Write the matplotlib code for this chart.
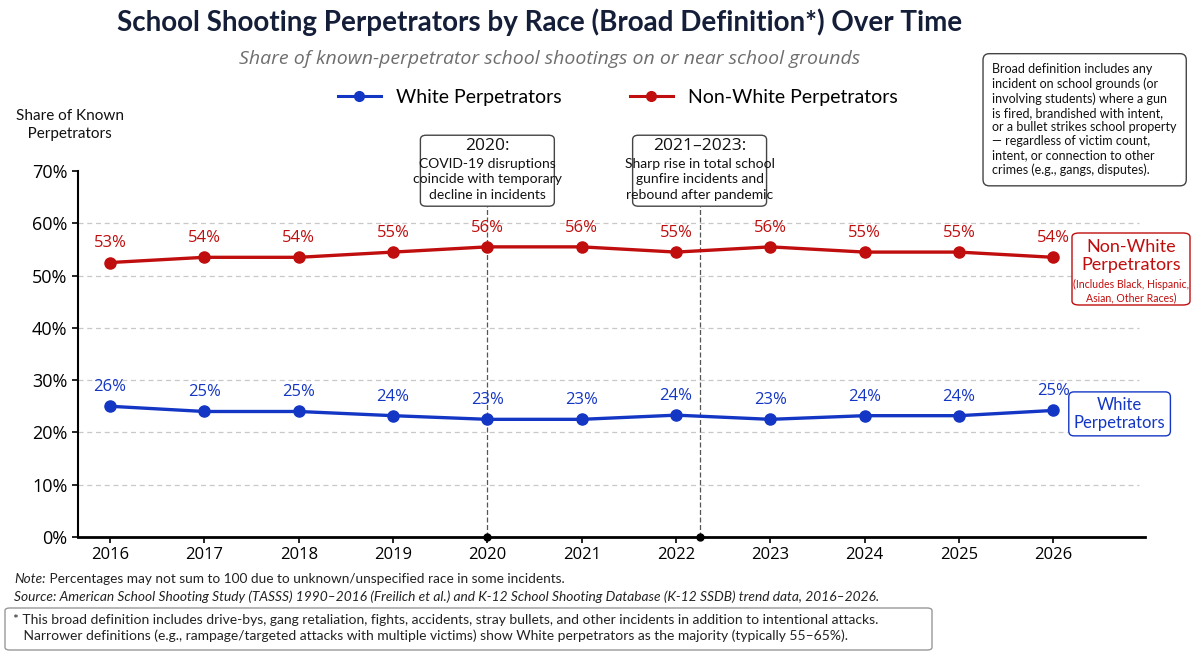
import matplotlib
matplotlib.use('Agg')
import matplotlib.pyplot as plt
import matplotlib.transforms as mtransforms
from matplotlib.patches import FancyBboxPatch
from matplotlib.lines import Line2D

# data
years = [2016, 2017, 2018, 2019, 2020, 2021, 2022, 2023, 2024, 2025, 2026]
nonwhite = [52.5, 53.5, 53.5, 54.5, 55.5, 55.5, 54.5, 55.5, 54.5, 54.5, 53.5]
nonwhite_labels = ['53%', '54%', '54%', '55%', '56%', '56%', '55%', '56%', '55%', '55%', '54%']
white = [25.0, 24.0, 24.0, 23.2, 22.5, 22.5, 23.3, 22.5, 23.2, 23.2, 24.2]
white_labels = ['26%', '25%', '25%', '24%', '23%', '23%', '24%', '23%', '24%', '24%', '25%']
yticks = [0, 10, 20, 30, 40, 50, 60, 70]
events = [2020, 2022.25]
event_titles = ['2020:', '2021\u20132023:']
event_texts = ['COVID-19 disruptions\ncoincide with temporary\ndecline in incidents',
               'Sharp rise in total school\ngunfire incidents and\nrebound after pandemic']

RED = '#c00d0d'
BLUE = '#1436c4'
NAVY = '#141e38'
LATO = ['Lato', 'DejaVu Sans']
BODY = ['Open Sans', 'DejaVu Sans']

plt.rcParams['font.family'] = LATO

fig = plt.figure(figsize=(12, 6.58), dpi=100)
ax = fig.add_axes([0.065, 0.184, 0.889, 0.556])

ax.plot(years, nonwhite, '-o', color=RED, lw=2.4, ms=8, zorder=3)
ax.plot(years, white, '-o', color=BLUE, lw=2.4, ms=8, zorder=3)
for x, y, s in zip(years, nonwhite, nonwhite_labels):
    ax.annotate(s, (x, y), xytext=(0, 8), textcoords='offset points',
                ha='center', va='bottom', color=RED, fontsize=12, family=BODY)
for x, y, s in zip(years, white, white_labels):
    ax.annotate(s, (x, y), xytext=(0, 8), textcoords='offset points',
                ha='center', va='bottom', color=BLUE, fontsize=12, family=BODY)

ax.set_xlim(2015.66, 2026.97)
ax.set_ylim(0, 70)
ax.set_yticks(yticks)
ax.set_yticklabels([f'{t}%' for t in yticks], fontsize=13, family=BODY)
ax.set_xticks(years)
ax.set_xticklabels([str(y) for y in years], fontsize=12, family=BODY)
for t in yticks[1:-1]:
    ax.axhline(t, xmax=0.995, color='#c8c8c8', lw=0.9, ls=(0, (4, 3)), zorder=1)
ax.spines[['top', 'right']].set_visible(False)
ax.spines['left'].set_linewidth(1.5)
ax.spines['bottom'].set_linewidth(2)
ax.tick_params(axis='both', length=4, width=1.2)

# event markers with boxed notes
trans = mtransforms.blended_transform_factory(ax.transData, ax.transAxes)
for x, head, body in zip(events, event_titles, event_texts):
    ax.axvline(x, ymin=0, ymax=0.904, color='#555555', lw=0.9, ls=(0, (4, 2)), zorder=2)
    ax.plot(x, 0, 'o', color='black', ms=5, clip_on=False, zorder=4)
    ax.add_patch(FancyBboxPatch((x - 0.71, 0.904), 1.42, 0.194,
                                boxstyle='round,pad=0,rounding_size=0.06', mutation_aspect=0.2,
                                transform=trans, fc='white', ec='#444444', lw=1, clip_on=False, zorder=5))
    ax.text(x, 1.068, head, transform=trans, ha='center', va='center', fontsize=12.5,
            family=BODY, color='#111111', zorder=6)
    ax.text(x, 0.978, body, transform=trans, ha='center', va='center', fontsize=10,
            linespacing=1.35, color='#111111', zorder=6)

# titles
fig.text(0.45, 0.967, 'School Shooting Perpetrators by Race (Broad Definition*) Over Time',
         ha='center', va='center', fontsize=20, fontweight='bold', color=NAVY)
fig.text(0.458, 0.91, 'Share of known-perpetrator school shootings on or near school grounds',
         ha='center', va='center', fontsize=14, style='italic', color='#6e6e6e', family=BODY)

handles = [Line2D([], [], color=BLUE, marker='o', lw=2.2, ms=7),
           Line2D([], [], color=RED, marker='o', lw=2.2, ms=7)]
fig.legend(handles, ['White Perpetrators', 'Non-White Perpetrators'], loc='center',
           bbox_to_anchor=(0.515, 0.852), ncol=2, frameon=False, fontsize=14,
           handlelength=2.2, columnspacing=3.5, handletextpad=0.8)

fig.text(0.013, 0.81, 'Share of Known\n   Perpetrators', ha='left', va='center',
         fontsize=11, color='#111111', linespacing=1.3)

fig.text(0.827, 0.818,
         'Broad definition includes any\nincident on school grounds (or\ninvolving students) where a gun\n'
         'is fired, brandished with intent,\nor a bullet strikes school property\n'
         '\u2014 regardless of victim count,\nintent, or connection to other\ncrimes (e.g., gangs, disputes).',
         ha='left', va='center', fontsize=9, linespacing=1.22, color='#111111',
         bbox=dict(boxstyle='round,pad=0.75,rounding_size=0.5', fc='white', ec='#444444', lw=1))

# right-hand series labels
fig.patches.append(FancyBboxPatch(
    (1072 / 1200, 1 - 305 / 658), 118 / 1200, 72 / 658, boxstyle='round,pad=0,rounding_size=0.006',
    transform=fig.transFigure, fc='white', ec=RED, lw=1))
fig.text(0.9425, 0.611, 'Non-White\nPerpetrators', ha='center', va='center', fontsize=13,
         color=RED, linespacing=1.15)
fig.text(0.9425, 0.558, '(Includes Black, Hispanic,\nAsian, Other Races)', ha='center', va='center',
         fontsize=7.6, color=RED, linespacing=1.3)
fig.text(0.933, 0.371, 'White\nPerpetrators', ha='center', va='center', fontsize=12,
         color=BLUE, linespacing=1.15,
         bbox=dict(boxstyle='round,pad=0.3,rounding_size=0.3', fc='white', ec=BLUE, lw=1))

# footer
note = fig.text(0.012, 0.12, 'Note:', ha='left', va='center', fontsize=9.8, style='italic', color='#222222')
ax.annotate(' Percentages may not sum to 100 due to unknown/unspecified race in some incidents.',
            xy=(1, 0.5), xycoords=note, ha='left', va='center', fontsize=9.8, color='#222222',
            annotation_clip=False)
fig.text(0.012, 0.093, 'Source: American School Shooting Study (TASSS) 1990\u20132016 (Freilich et al.) and '
         'K-12 School Shooting Database (K-12 SSDB) trend data, 2016\u20132026.',
         ha='left', va='center', fontsize=9.9, style='italic', color='#222222')
fig.patches.append(FancyBboxPatch(
    (5 / 1200, 1 - 650 / 658), 927 / 1200, 42 / 658, boxstyle='round,pad=0,rounding_size=0.004',
    transform=fig.transFigure, fc='none', ec='#999999', lw=1))
fig.text(0.011, 0.0455, '* This broad definition includes drive-bys, gang retaliation, fights, accidents, stray bullets, '
         'and other incidents in addition to intentional attacks.\n'
         '   Narrower definitions (e.g., rampage/targeted attacks with multiple victims) show White perpetrators '
         'as the majority (typically 55\u201365%).',
         ha='left', va='center', fontsize=10, color='#222222', linespacing=1.3)

fig.savefig('out.png', dpi=100)
